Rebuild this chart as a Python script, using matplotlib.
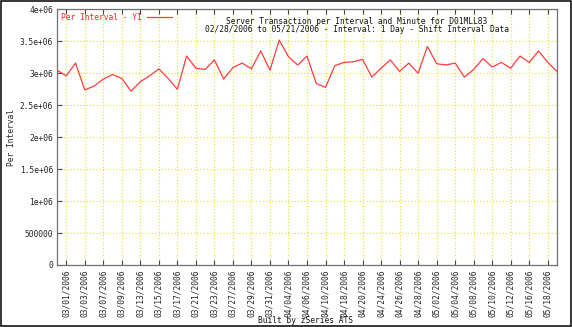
import matplotlib
matplotlib.use("Agg")
import matplotlib.pyplot as plt
from matplotlib.patches import Rectangle
from matplotlib.lines import Line2D

dates = ["02/28/2006", "03/01/2006", "03/02/2006", "03/03/2006", "03/06/2006", "03/07/2006",
         "03/08/2006", "03/09/2006", "03/10/2006", "03/13/2006", "03/14/2006", "03/15/2006",
         "03/16/2006", "03/17/2006", "03/20/2006", "03/21/2006", "03/22/2006", "03/23/2006",
         "03/24/2006", "03/27/2006", "03/28/2006", "03/29/2006", "03/30/2006", "03/31/2006",
         "04/03/2006", "04/04/2006", "04/05/2006", "04/06/2006", "04/07/2006", "04/10/2006",
         "04/17/2006", "04/18/2006", "04/19/2006", "04/20/2006", "04/21/2006", "04/24/2006",
         "04/25/2006", "04/26/2006", "04/27/2006", "04/28/2006", "05/01/2006", "05/02/2006",
         "05/03/2006", "05/04/2006", "05/05/2006", "05/08/2006", "05/09/2006", "05/10/2006",
         "05/11/2006", "05/12/2006", "05/15/2006", "05/16/2006", "05/17/2006", "05/18/2006",
         "05/19/2006"]

per_interval = [3.05e6, 2.96e6, 3.16e6, 2.74e6, 2.80e6, 2.91e6, 2.98e6, 2.92e6, 2.72e6, 2.87e6,
                2.96e6, 3.07e6, 2.92e6, 2.75e6, 3.27e6, 3.08e6, 3.06e6, 3.21e6, 2.91e6, 3.09e6,
                3.16e6, 3.07e6, 3.35e6, 3.05e6, 3.52e6, 3.26e6, 3.13e6, 3.27e6, 2.84e6, 2.78e6,
                3.12e6, 3.17e6, 3.18e6, 3.22e6, 2.94e6, 3.08e6, 3.21e6, 3.03e6, 3.16e6, 3.00e6,
                3.42e6, 3.15e6, 3.13e6, 3.16e6, 2.94e6, 3.06e6, 3.23e6, 3.10e6, 3.17e6, 3.08e6,
                3.27e6, 3.17e6, 3.35e6, 3.17e6, 3.03e6]

y_ticks = [0, 500000, 1000000, 1500000, 2000000, 2500000, 3000000, 3500000, 4000000]
y_tick_labels = ["0", "500000", "1e+06", "1.5e+06", "2e+06", "2.5e+06", "3e+06", "3.5e+06", "4e+06"]

title1 = "Server Transaction per Interval and Minute for D01MLL83"
title2 = "02/28/2006 to 05/21/2006 - Interval: 1 Day - Shift Interval Data"
legend_label = "Per Interval - Y1"
y_label = "Per Interval"
footer = "Built by zSeries ATS"

W, H = 572, 327
FONT = "DejaVu Sans Mono"
FS = 5.7

fig = plt.figure(figsize=(W / 100, H / 100), dpi=100)
fig.patch.set_facecolor("white")

def fx(px):
    return px / W

def fy(py):
    return 1 - py / H

ax = fig.add_axes([fx(57), fy(265), fx(557) - fx(57), fy(9.4) - fy(265)])
x = list(range(len(dates)))
ax.plot(x, per_interval, color="#ff3c3c", lw=0.9, zorder=3)
ax.set_xlim(0, len(dates) - 1)
ax.set_ylim(0, 4e6)

tick_pos = x[1::2]
ax.set_xticks(tick_pos)
ax.set_xticklabels([dates[i] for i in tick_pos], rotation=90, fontfamily=FONT, fontsize=FS,
                   color="#222222")
ax.set_yticks(y_ticks)
ax.set_yticklabels(y_tick_labels, fontfamily=FONT, fontsize=FS, color="#222222")
ax.tick_params(axis="x", direction="in", length=3.5, width=0.8, color="#444444", pad=3.5,
               top=True, bottom=True)
ax.tick_params(axis="y", direction="in", length=3.5, width=0.8, color="#444444", pad=3,
               left=True, right=False)
for lbl in ax.get_xticklabels():
    lbl.set_va("top")

ax.grid(True, color="#e6e640", linestyle=(0, (1, 1.6)), lw=0.9, zorder=1)
for sp in ax.spines.values():
    sp.set_color("#707070")
    sp.set_linewidth(0.9)

ax.set_ylabel(y_label, fontfamily=FONT, fontsize=FS, color="#222222")
ax.yaxis.set_label_coords(fx(10) - fx(57), 0.5)

fig.text(fx(61), fy(17), legend_label, fontfamily=FONT, fontsize=FS, color="#ff2020",
         ha="left", va="center")
fig.add_artist(Line2D([fx(147), fx(172)], [fy(16.5), fy(16.5)], color="#ff3c3c", lw=0.9))

fig.text(fx(357), fy(21), title1, fontfamily=FONT, fontsize=FS, color="#111111",
         ha="center", va="center")
fig.text(fx(357), fy(29), title2, fontfamily=FONT, fontsize=FS, color="#111111",
         ha="center", va="center")
fig.text(fx(306), fy(320.5), footer, fontfamily=FONT, fontsize=FS, color="#111111",
         ha="center", va="center")

fig.add_artist(Rectangle((fx(0.6), fy(326.2)), fx(570.5) - fx(0.6), fy(0.6) - fy(326.2),
                         fill=False, edgecolor="black", lw=1.1, transform=fig.transFigure))

fig.savefig("out.png", dpi=100, facecolor="white")
